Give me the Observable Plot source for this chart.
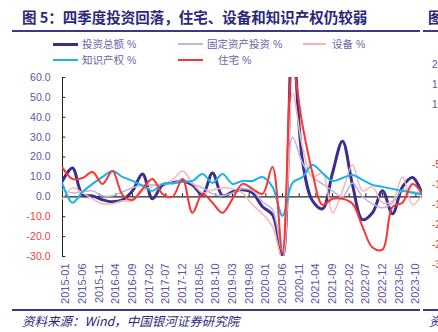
<!DOCTYPE html>
<html>
<head>
<meta charset="utf-8">
<script src="https://cdn.jsdelivr.net/npm/d3@7"></script>
<script src="https://cdn.jsdelivr.net/npm/@observablehq/plot@0.6"></script>
<style>
  body { margin: 0; background: #fff; }
  #wrap { position: relative; width: 438px; height: 332px; overflow: hidden; background: #fff;
          font-family: "Liberation Sans", "Noto Sans CJK SC", sans-serif; }
  .abs { position: absolute; white-space: nowrap; }
  .title { left: 22px; top: 7px; font-size: 14.5px; font-weight: bold; color: #2a287a;
           font-family: "Noto Sans CJK SC", sans-serif; line-height: 20px; }
  .rule { height: 2px; background: #3b3889; }
  .leg { font-size: 10.5px; color: #6a65a8; line-height: 14px; font-family: "Liberation Sans", "Noto Sans CJK SC", sans-serif; }
  .src { left: 22px; top: 313px; font-size: 12.5px; font-style: italic; color: #2a287a; line-height: 16px;
         font-family: "Noto Sans CJK SC", sans-serif; }
  .nb { font-size: 10px; line-height: 12px; font-family: "Liberation Sans", sans-serif; }
</style>
</head>
<body>
<div id="wrap">
  <div class="abs title">图 5：四季度投资回落，住宅、设备和知识产权仍较弱</div>
  <div class="abs title" style="left:428px">图</div>
  <div class="abs rule" style="left:12px; top:30px; width:408px"></div>
  <div class="abs rule" style="left:423px; top:30px; width:15px"></div>
  <div id="legend"></div>
  <div id="chart" class="abs" style="left:0; top:68px"></div>
  <div class="abs rule" style="left:12px; top:309px; width:408px"></div>
  <div class="abs rule" style="left:423px; top:309px; width:15px"></div>
  <div class="abs src">资料来源：Wind，中国银河证券研究院</div>
  <div class="abs src" style="left:429px">资</div>
  <div id="neighbor"></div>
</div>
<script>
// ---- data ----
const quarters = ["2014Q4",
  "2015Q1","2015Q2","2015Q3","2015Q4","2016Q1","2016Q2","2016Q3","2016Q4",
  "2017Q1","2017Q2","2017Q3","2017Q4","2018Q1","2018Q2","2018Q3","2018Q4",
  "2019Q1","2019Q2","2019Q3","2019Q4","2020Q1","2020Q2","2020Q3","2020Q4",
  "2021Q1","2021Q2","2021Q3","2021Q4","2022Q1","2022Q2","2022Q3","2022Q4",
  "2023Q1","2023Q2","2023Q3","2023Q4"];
const seriesNames = ["投资总额 %", "固定资产投资 %", "设备 %", "知识产权 %", "住宅 %"];
const totalInv = [8, 14.5, 1, 0.5, -1.5, -2.5, -1.5, 3, 11.5, -1, 6, 7, 8, 6, 1, 12, 0.5, 2.5, 3.5, 2, -5, -9, -30, 80, 18, -2, -6, 12, 28, 6, -11.5, -8, 3, -8.5, 5, 9.7, 1];
const fixedInv = [3.5, 2, 2.5, 3, 0.5, 0.5, 2.5, 4.5, 6, 6, 6.5, 6.5, 9, 6.5, 4.5, 1.5, 0.5, 2, 4, 3, -2.5, -6.5, -28, 30, 17, 10, 6.5, 3, 0, 7, 0, -3.5, -5.5, -3, 3.5, 2.5, 2];
const equipment = [-1, 4.5, 2, -1, -3.5, -3.5, -2, -2, 3, 5.5, 6.5, 8.5, 13, 7, 2, 3.5, 4.5, 4, 2, -4, -8.5, -15, -31, 52, 25, 10, 12, -8, 3, 16, 3, 5, -3, -2, 10, -4, 1.5];
const ipp = [6.5, -3, 2.5, 6.5, 10, 13, 10, 8, 5.5, 3, 6.5, 7, 7.5, 8, 11.5, 7, 11.5, 6.5, 8, 8, 10, 5, -9.5, 7, 10, 16, 12, 8, 9.5, 11, 8.5, 6, 5, 4, 3, 2, 1.2];
const residential = [14.7, 9, 9.5, 12.5, 6.5, 13, 1, -1.5, 4, 9, 1.5, 0, 9, -8, 1.5, -3, -8, -1, 6.5, 4, 1.5, 15, -28, 65, 36, 12, -4, -1, -1, -3.5, -15, -25.5, -26.5, -5, -3, 6.5, 1.5];
const yTicks = [60, 50, 40, 30, 20, 10, 0, -10, -20, -30];
const xTickLabels = ["2015-01","2015-06","2015-11","2016-04","2016-09","2017-02","2017-07","2017-12",
  "2018-05","2018-10","2019-03","2019-08","2020-01","2020-06","2020-11","2021-04","2021-09",
  "2022-02","2022-07","2022-12","2023-05","2023-10"];
const neighborTicks = [20, 15, 10, -5, -10, -15, -20, -25, -30];

// ---- styles ----
const colors = ["#3a2f90", "#bab6de", "#f8b4b4", "#19b2ea", "#fb3535"];
const widths = [3, 1.5, 1.5, 2, 2];
const purple = "#5b55a6", redText = "#f23a3a";

// ---- build ----
const quarterMonth = s => (+s.slice(0, 4) - 2015) * 12 + (+s.slice(5)) * 3 - 1;
const labelMonth = s => (+s.slice(0, 4) - 2015) * 12 + (+s.slice(5, 7) - 1);
const values = [totalInv, fixedInv, equipment, ipp, residential];
const rows = seriesNames.map((name, i) => values[i].map((v, j) => ({name, m: quarterMonth(quarters[j]), v})));
const xDomain = [quarterMonth(quarters[0]), quarterMonth(quarters[quarters.length - 1])];
const tickMonths = xTickLabels.map(labelMonth);
const labelOf = new Map(xTickLabels.map(l => [labelMonth(l), l]));

const chart = Plot.plot({
  width: 438, height: 240,
  marginTop: 9, marginBottom: 52, marginLeft: 62, marginRight: 16,
  style: {fontFamily: "Liberation Sans, Arial, sans-serif", background: "transparent"},
  x: {type: "linear", domain: xDomain, label: null},
  y: {domain: [-30, 60], label: null},
  marks: [
    Plot.ruleY([0], {stroke: "#222", strokeWidth: 1.4}),
    Plot.ruleX(tickMonths, {y1: 0, y2: 1.6, stroke: "#222", strokeWidth: 1}),
    Plot.ruleX([xDomain[0]], {stroke: "#222", strokeWidth: 1}),
    Plot.ruleY(yTicks, {x1: xDomain[0], x2: xDomain[0] + 1, stroke: "#222", strokeWidth: 1}),
    Plot.axisY(yTicks.filter(d => d >= 0), {label: null, tickSize: 0, tickPadding: 12, tickFormat: d => d.toFixed(1), fill: purple, fontSize: 10.5}),
    Plot.axisY(yTicks.filter(d => d < 0), {label: null, tickSize: 0, tickPadding: 12, tickFormat: d => d.toFixed(1), fill: redText, fontSize: 10.5}),
    Plot.axisX(tickMonths, {label: null, anchor: "bottom", tickSize: 0, tickPadding: 7, tickRotate: -90, tickFormat: m => labelOf.get(m), fill: purple, fontSize: 11}),
    ...rows.map((r, i) => Plot.line(r, {x: "m", y: "v", stroke: colors[i], strokeWidth: widths[i], curve: "catmull-rom", clip: true}))
  ]
});
document.getElementById("chart").appendChild(chart);

// legend
const legendPos = [[53, 44], [178, 44], [303, 44], [53, 60], [178, 60]];
const legendTextX = [82, 207, 332, 82, 218];
const legend = document.getElementById("legend");
seriesNames.forEach((name, i) => {
  const [lx, ly] = legendPos[i];
  const line = document.createElement("div");
  line.className = "abs";
  line.style.cssText = `left:${lx}px;top:${ly - widths[i] / 2}px;width:${i === 2 ? 23 : 25}px;height:${widths[i] === 3 ? 3 : 2}px;background:${colors[i]}`;
  legend.appendChild(line);
  const t = document.createElement("div");
  t.className = "abs leg";
  t.style.left = legendTextX[i] + "px";
  t.style.top = (ly - 7) + "px";
  t.textContent = name;
  legend.appendChild(t);
});

// clipped neighbouring chart axis labels at right edge
const nb = document.getElementById("neighbor");
neighborTicks.forEach(v => {
  const d = document.createElement("div");
  d.className = "abs nb";
  d.style.left = "432px";
  d.style.top = (145 - v * 4 - 6) + "px";
  d.style.color = v > 0 ? purple : redText;
  d.textContent = v;
  nb.appendChild(d);
});
</script>
</body>
</html>
